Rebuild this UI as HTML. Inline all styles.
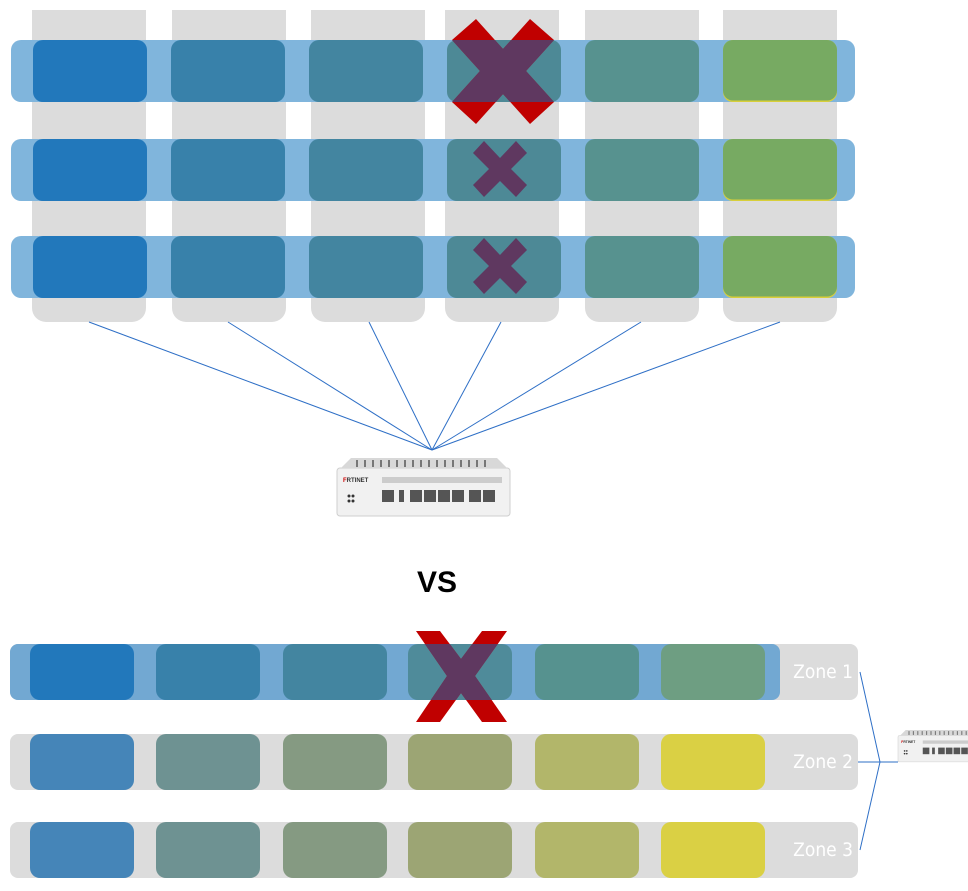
<!DOCTYPE html>
<html><head><style>body{margin:0;background:#fff}svg{display:block}</style></head><body>
<svg width="968" height="891" viewBox="0 0 968 891" xmlns="http://www.w3.org/2000/svg" font-family="Liberation Sans, sans-serif">
<defs>
<clipPath id="b1"><rect x="11" y="40" width="844" height="62" rx="10"/></clipPath>
<clipPath id="b4"><rect x="10" y="644" width="770" height="56" rx="8"/></clipPath>
<g id="dev">
<rect x="0" y="10" width="173" height="48" rx="3" fill="#f1f1f1" stroke="#cfcfcf"/>
<polygon points="14,0 160,0 170,10 4,10" fill="#d8d8d8"/>
<g stroke="#777" stroke-width="2">
<line x1="20" y1="2" x2="20" y2="9"/><line x1="28" y1="2" x2="28" y2="9"/><line x1="36" y1="2" x2="36" y2="9"/><line x1="44" y1="2" x2="44" y2="9"/><line x1="52" y1="2" x2="52" y2="9"/><line x1="60" y1="2" x2="60" y2="9"/><line x1="68" y1="2" x2="68" y2="9"/><line x1="76" y1="2" x2="76" y2="9"/><line x1="84" y1="2" x2="84" y2="9"/><line x1="92" y1="2" x2="92" y2="9"/><line x1="100" y1="2" x2="100" y2="9"/><line x1="108" y1="2" x2="108" y2="9"/><line x1="116" y1="2" x2="116" y2="9"/><line x1="124" y1="2" x2="124" y2="9"/><line x1="132" y1="2" x2="132" y2="9"/><line x1="140" y1="2" x2="140" y2="9"/><line x1="148" y1="2" x2="148" y2="9"/></g>
<text x="6" y="24" font-size="6" font-weight="bold" fill="#c00">F<tspan fill="#333">RTINET</tspan></text>
<rect x="45" y="19" width="120" height="6" fill="#ccc"/>
<rect x="45" y="32" width="12" height="12" fill="#555"/><rect x="62" y="32" width="5" height="12" fill="#555"/>
<rect x="73" y="32" width="12" height="12" fill="#555"/><rect x="87" y="32" width="12" height="12" fill="#555"/><rect x="101" y="32" width="12" height="12" fill="#555"/><rect x="115" y="32" width="12" height="12" fill="#555"/>
<rect x="132" y="32" width="12" height="12" fill="#555"/><rect x="146" y="32" width="12" height="12" fill="#555"/>
<circle cx="12" cy="38" r="1.5" fill="#333"/><circle cx="16" cy="38" r="1.5" fill="#333"/><circle cx="12" cy="43" r="1.5" fill="#333"/><circle cx="16" cy="43" r="1.5" fill="#333"/>
</g>
<g id="col"><rect x="0" y="10" width="114" height="312" rx="14"/><rect x="0" y="10" width="114" height="30"/></g>
</defs>
<g fill="#dcdcdc">
<use href="#col" x="32"/><use href="#col" x="172"/><use href="#col" x="311"/><use href="#col" x="445"/><use href="#col" x="585"/><use href="#col" x="723"/>
</g>
<g id="row">
<rect x="11" y="40" width="844" height="62" rx="10" fill="#80b5dc"/>
<rect x="33" y="40" width="114" height="62" rx="10" fill="#2278bb"/>
<rect x="171" y="40" width="114" height="62" rx="10" fill="#3881aa"/>
<rect x="309" y="40" width="114" height="62" rx="10" fill="#4385a0"/>
<rect x="447" y="40" width="114" height="62" rx="10" fill="#4d8996"/>
<rect x="585" y="40" width="114" height="62" rx="10" fill="#57928f"/>
<rect x="723" y="40" width="114" height="62" rx="10" fill="#d8cf3a"/>
<rect x="723" y="40" width="114" height="60.5" rx="10" fill="#77aa62"/>
</g>
<use href="#row" y="99"/>
<use href="#row" y="196"/>
<g>
<polygon points="452,40 476,19 503,49 530,19 554,40 526,71 554,102 530,124 503,94 476,124 452,102 480,71" fill="#c00000"/>
<polygon points="452,40 476,19 503,49 530,19 554,40 526,71 554,102 530,124 503,94 476,124 452,102 480,71" fill="#5f3860" clip-path="url(#b1)"/>
</g>
<polygon points="473,153 484,141 500,158 516,141 527,153 511,169 527,185 516,197 500,181 484,197 473,185 489,169" fill="#5f3860"/>
<polygon points="473,250 484,238 500,255 516,238 527,250 511,266 527,282 516,294 500,278 484,294 473,282 489,266" fill="#5f3860"/>
<g stroke="#2e6fc6" stroke-width="1">
<line x1="89" y1="322" x2="432" y2="450"/><line x1="228" y1="322" x2="432" y2="450"/><line x1="369" y1="322" x2="432" y2="450"/><line x1="501" y1="322" x2="432" y2="450"/><line x1="641" y1="322" x2="432" y2="450"/><line x1="780" y1="322" x2="432" y2="450"/>
</g>
<use href="#dev" x="337" y="458"/>
<text x="437" y="592" font-size="30" font-weight="bold" text-anchor="middle" fill="#000">VS</text>
<g fill="#dcdcdc"><rect x="10" y="644" width="848" height="56" rx="8"/><rect x="10" y="734" width="848" height="56" rx="8"/><rect x="10" y="822" width="848" height="56" rx="8"/></g>
<rect x="10" y="644" width="770" height="56" rx="8" fill="#72a8d2"/>
<g>
<rect x="30" y="644" width="104" height="56" rx="10" fill="#2278bb"/><rect x="156" y="644" width="104" height="56" rx="10" fill="#3881aa"/><rect x="283" y="644" width="104" height="56" rx="10" fill="#4385a0"/><rect x="408" y="644" width="104" height="56" rx="10" fill="#4f8b9a"/><rect x="535" y="644" width="104" height="56" rx="10" fill="#56928f"/><rect x="661" y="644" width="104" height="56" rx="10" fill="#6e9e82"/>
</g>
<g id="zr">
<rect x="30" y="734" width="104" height="56" rx="10" fill="#4585b8"/><rect x="156" y="734" width="104" height="56" rx="10" fill="#6e9292"/><rect x="283" y="734" width="104" height="56" rx="10" fill="#859a82"/><rect x="408" y="734" width="104" height="56" rx="10" fill="#9ca574"/><rect x="535" y="734" width="104" height="56" rx="10" fill="#b2b66a"/><rect x="661" y="734" width="104" height="56" rx="10" fill="#dad044"/>
</g>
<use href="#zr" y="88"/>
<g>
<polygon points="416,631 440,631 461,659 482,631 507,631 475,676 507,722 482,722 461,693 440,722 416,722 447,676" fill="#c00000"/>
<polygon points="416,631 440,631 461,659 482,631 507,631 475,676 507,722 482,722 461,693 440,722 416,722 447,676" fill="#5f3860" clip-path="url(#b4)"/>
</g>
<g fill="#fff" font-size="19" font-family="DejaVu Sans Condensed, Liberation Sans Narrow, sans-serif" text-anchor="end">
<text x="853" y="678">Zone 1</text><text x="853" y="768">Zone 2</text><text x="853" y="856">Zone 3</text>
</g>
<g stroke="#2e6fc6" stroke-width="1" fill="none">
<polyline points="860,672 880,762 860,850"/><line x1="858" y1="762" x2="898" y2="762"/>
</g>
<g transform="translate(898,730) scale(0.55)"><use href="#dev"/></g>
</svg>
</body></html>
